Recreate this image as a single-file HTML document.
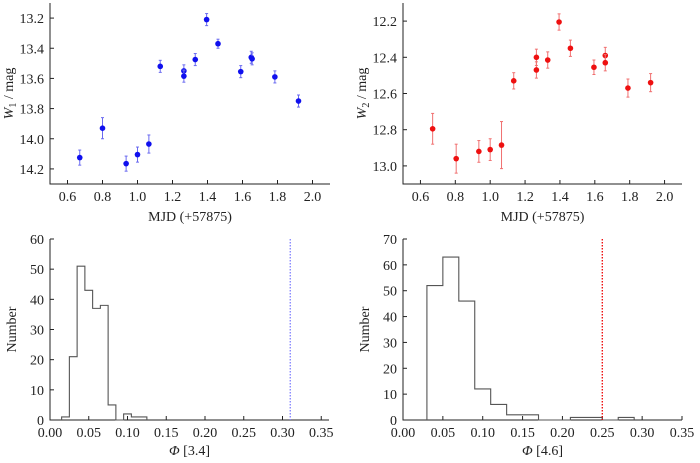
<!DOCTYPE html>
<html><head><meta charset="utf-8">
<style>
body{margin:0;background:#fff;}
svg{display:block;}
svg text{font-family:"Liberation Serif","Times New Roman",Times,serif;font-size:14px;fill:#222;}
</style></head>
<body>
<svg id="fig" width="700" height="463" viewBox="0 0 700 463"></svg>
<script>
// Panel a: W1 light curve
const w1Mjd = [0.67,0.80,0.935,1.00,1.065,1.13,1.265,1.265,1.33,1.395,1.46,1.59,1.65,1.655,1.785,1.92];
const w1Mag = [14.125,13.93,14.165,14.105,14.035,13.52,13.55,13.585,13.475,13.21,13.37,13.555,13.46,13.47,13.59,13.75];
const w1Err = [0.05,0.07,0.05,0.05,0.06,0.04,0.04,0.04,0.04,0.04,0.03,0.04,0.04,0.04,0.04,0.04];
// Panel b: W2 light curve
const w2Mjd = [0.67,0.805,0.935,1.00,1.065,1.135,1.265,1.265,1.33,1.395,1.46,1.595,1.66,1.66,1.79,1.92];
const w2Mag = [12.795,12.96,12.92,12.91,12.885,12.53,12.40,12.47,12.415,12.205,12.35,12.455,12.39,12.43,12.57,12.54];
const w2Err = [0.085,0.08,0.06,0.06,0.13,0.045,0.045,0.045,0.045,0.045,0.045,0.04,0.045,0.045,0.05,0.05];
const mjdTicks = [0.6,0.8,1.0,1.2,1.4,1.6,1.8,2.0];
const w1Ticks = [13.2,13.4,13.6,13.8,14.0,14.2];
const w2Ticks = [12.2,12.4,12.6,12.8,13.0];
// Panel c: histogram Phi[3.4]
const h1Edges = [0.015,0.025,0.035,0.045,0.055,0.065,0.075,0.085,0.095,0.105,0.115,0.125];
const h1Counts = [1,21,51,43,37,38,5,0,2,1,1];
const h1Line = 0.31;
// Panel d: histogram Phi[4.6]
const h2Edges = [0.03,0.05,0.07,0.09,0.11,0.13,0.15,0.17,0.19,0.21,0.23,0.25,0.27,0.29];
const h2Counts = [52,63,46,12,6,2,2,0,0,1,1,0,1];
const h2Line = 0.25;
const phiTicks = [0,0.05,0.10,0.15,0.20,0.25,0.30,0.35];
const h1YTicks = [0,10,20,30,40,50,60];
const h2YTicks = [0,10,20,30,40,50,60,70];

const NS="http://www.w3.org/2000/svg";
const svg=document.getElementById('fig');
function el(tag,attrs,parent){const e=document.createElementNS(NS,tag);for(const k in attrs)e.setAttribute(k,attrs[k]);(parent||svg).appendChild(e);return e;}
function scale(d0,d1,r0,r1){return v=>r0+(v-d0)/(d1-d0)*(r1-r0);}

function axes(g,box,xs,ys,xt,yt,xfmt,yfmt,name){
  const [L,T,R,B]=box;
  const ax=el('path',{d:`M${L},${T} V${B} H${R}`,stroke:'#222','stroke-width':1,fill:'none'},g);
  
  
  xt.forEach(v=>{const x=xs(v);
    el('line',{x1:x,x2:x,y1:B,y2:B-4,stroke:'#222'},g);
    const t=el('text',{x:x,y:B+17,'text-anchor':'middle'},g);t.textContent=xfmt(v);
    
    
  });
  yt.forEach(v=>{const y=ys(v);
    el('line',{x1:L,x2:L+4,y1:y,y2:y,stroke:'#222'},g);
    const t=el('text',{x:L-6,y:y+5,'text-anchor':'end'},g);t.textContent=yfmt(v);
    
    
  });
}

function lightcurve(box,xr,yr,xs_,ys_,es_,yt,color,ecolor,sub,name){
  const g=el('g',{});
  
  
  const [L,T,R,B]=box;
  const xs=scale(xr[0],xr[1],L,R), ys=scale(yr[0],yr[1],T,B);
  axes(g,box,xs,ys,mjdTicks,yt,v=>v.toFixed(1),v=>v.toFixed(1),name);
  xs_.forEach((v,i)=>{
    const x=xs(v),y=ys(ys_[i]),y1=ys(ys_[i]-es_[i]),y2=ys(ys_[i]+es_[i]);
    el('line',{x1:x,x2:x,y1:y1,y2:y2,stroke:ecolor,'stroke-width':1},g);
    el('line',{x1:x-1.5,x2:x+1.5,y1:y1,y2:y1,stroke:ecolor},g);
    el('line',{x1:x-1.5,x2:x+1.5,y1:y2,y2:y2,stroke:ecolor},g);
    const c=el('circle',{cx:x,cy:y,r:2.8,fill:color},g);
    
    
  });
  const xl=el('text',{x:(L+R)/2,y:B+37,'text-anchor':'middle'},g);xl.textContent='MJD (+57875)';
  
  
  const yl=el('text',{transform:`translate(${L-37},${(T+B)/2}) rotate(-90)`,'text-anchor':'middle'},g);
  yl.innerHTML=`<tspan font-style="italic">W</tspan><tspan font-size="10" dy="3">${sub}</tspan><tspan dy="-3"> / mag</tspan>`;
  
  
}

function hist(box,xr,yr,edges,counts,yt,lineX,lineColor,label,name){
  const g=el('g',{});
  
  
  const [L,T,R,B]=box;
  const xs=scale(xr[0],xr[1],L,R), ys=scale(yr[0],yr[1],B,T);
  axes(g,box,xs,ys,phiTicks,yt,v=>v.toFixed(2),v=>String(v),name);
  let d=`M${xs(edges[0])},${ys(0)}`;
  counts.forEach((c,i)=>{d+=` V${ys(c)} H${xs(edges[i+1])}`;});
  d+=` V${ys(0)}`;
  const p=el('path',{d:d,fill:'none',stroke:'#555','stroke-width':1.1},g);
  
  
  const ln=el('line',{x1:xs(lineX),x2:xs(lineX),y1:T,y2:B,stroke:lineColor,'stroke-width':1.3,'stroke-dasharray':'1.5,1.5'},g);
  
  
  const xl=el('text',{x:(L+R)/2,y:B+35,'text-anchor':'middle'},g);
  xl.innerHTML=`<tspan font-style="italic">Φ</tspan> [${label}]`;
  
  
  const yl=el('text',{transform:`translate(${L-34},${(T+B)/2}) rotate(-90)`,'text-anchor':'middle'},g);
  yl.textContent='Number';
  
  
}

lightcurve([50,3,330,184],[0.5,2.1],[13.1,14.3],w1Mjd,w1Mag,w1Err,w1Ticks,'#1010ee','#6a6af0','1','w1-panel');
lightcurve([403,3,682,184],[0.5,2.1],[12.1,13.1],w2Mjd,w2Mag,w2Err,w2Ticks,'#ee1010','#f07070','2','w2-panel');
hist([50,239,329,420],[0,0.36],[0,60],h1Edges,h1Counts,h1YTicks,h1Line,'#8080ff','3.4','hist-3-4');
hist([403,239,682,420],[0,0.35],[0,70],h2Edges,h2Counts,h2YTicks,h2Line,'#ee0000','4.6','hist-4-6');
</script>
</body></html>
